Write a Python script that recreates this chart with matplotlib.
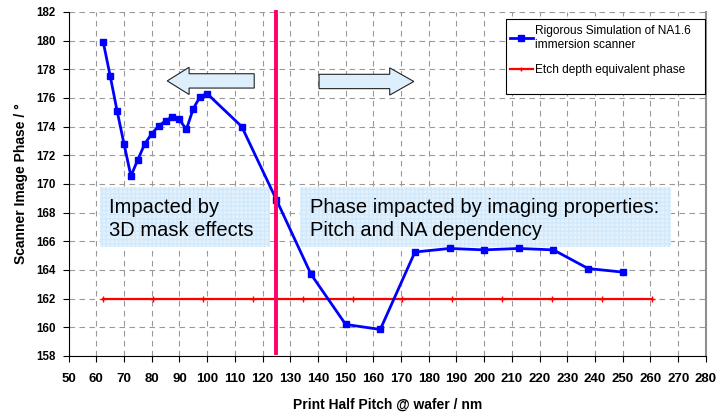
import matplotlib
matplotlib.use('Agg')
import matplotlib.pyplot as plt
from matplotlib.patches import Rectangle, FancyArrow

plt.rcParams['font.family'] = ['Liberation Sans', 'DejaVu Sans']

# Rigorous simulation (NA1.6 immersion scanner)
pitch = [62.5, 65, 67.5, 70, 72.5, 75, 77.5, 80, 82.5, 85, 87.5, 90, 92.5, 95,
         97.5, 100, 112.5, 125, 137.5, 150, 162.5, 175, 187.5, 200, 212.5,
         225, 237.5, 250]
phase = [179.9, 177.55, 175.1, 172.8, 170.55, 171.7, 172.8, 173.5, 174.05,
         174.4, 174.7, 174.5, 173.8, 175.25, 176.1, 176.3, 174.0, 168.9,
         163.7, 160.2, 159.85, 165.25, 165.5, 165.4, 165.5, 165.4, 164.1, 163.85]

# Etch depth equivalent phase
etch_x = [62.5, 80.5, 98.5, 116.5, 134.5, 152.5, 170.5, 188.5, 206.5, 224.5,
          242.5, 260.5]
etch_y = [162] * len(etch_x)

split_x = 125
x_ticks = list(range(50, 290, 10))
y_ticks = list(range(158, 184, 2))

fig = plt.figure(figsize=(7.16, 4.12), dpi=100)
ax = fig.add_axes([0.0958, 0.136, 0.890, 0.835])

ax.set_xlim(50, 280)
ax.set_ylim(158, 182)
ax.set_xticks(x_ticks)
ax.set_yticks(y_ticks)
ax.grid(True, color='#999999', linewidth=0.8, linestyle=(0, (5, 4)))
ax.set_axisbelow(True)

for lab in ax.get_xticklabels():
    lab.set_fontweight('bold')
    lab.set_fontsize(9.5)
for lab in ax.get_yticklabels():
    lab.set_fontweight('bold')
    lab.set_fontsize(8.3)
ax.tick_params(direction='out', length=4.5, width=0.8, color='black')
ax.tick_params(axis='x', pad=8)
ax.tick_params(axis='y', pad=5)

ax.spines['top'].set_visible(False)
ax.spines['right'].set_color('#909090')
ax.spines['right'].set_linewidth(1.5)
ax.spines['left'].set_color('black')
ax.spines['bottom'].set_color('black')

ax.set_xlabel('Print Half Pitch @ wafer / nm', fontsize=10, fontweight='bold',
              labelpad=9)
ax.set_ylabel('Scanner Image Phase / °', fontsize=10, fontweight='bold',
              labelpad=6)

# annotation boxes
for (x0, x1) in [(61.35, 122.8), (133.5, 267.4)]:
    ax.add_patch(Rectangle((x0, 165.58), x1 - x0, 4.18, facecolor='#E4F2FD',
                           edgecolor='#D2E9FB', hatch='++++', linewidth=0,
                           zorder=2))
ax.text(64.7, 167.55, 'Impacted by\n3D mask effects', fontsize=14.5,
        va='center', ha='left', linespacing=1.28, zorder=3)
ax.text(137.1, 167.55, 'Phase impacted by imaging properties:\nPitch and NA dependency',
        fontsize=14.5, va='center', ha='left', linespacing=1.28, zorder=3)

# arrows
ax.add_patch(FancyArrow(117.0, 177.19, -31.4, 0, width=1.0, head_width=1.9,
                        head_length=7.9, length_includes_head=True,
                        facecolor='#DDEEFC', edgecolor='#222222', linewidth=0.8,
                        zorder=3))
ax.add_patch(FancyArrow(140.4, 177.15, 34.2, 0, width=1.0, head_width=1.9,
                        head_length=8.7, length_includes_head=True,
                        facecolor='#DDEEFC', edgecolor='#222222', linewidth=0.8,
                        zorder=3))

l1, = ax.plot(pitch, phase, color='#0000FF', linewidth=2, marker='s',
              markersize=4.8, zorder=5,
              label='Rigorous Simulation of NA1.6\nimmersion scanner')
l2, = ax.plot(etch_x, etch_y, color='#FF0000', linewidth=1.6, marker='+',
              markersize=4, markeredgewidth=1, zorder=4,
              label='Etch depth equivalent phase')
ax.plot([split_x, split_x], [158.2, 182], color='#FF0066', linewidth=2.8,
        zorder=6, clip_on=False)

# legend frame (Excel style, drawn separately)
ax.add_patch(Rectangle((506 / 716, 1 - 94 / 412), 199 / 716, 75 / 412,
                       transform=fig.transFigure, facecolor='white',
                       edgecolor='black', linewidth=0.8, zorder=9,
                       clip_on=False))
leg = ax.legend(handles=[l1, l2], loc='upper left',
                bbox_to_anchor=((510 - 68.6) / 637.4, (356 - 25) / 344),
                fontsize=8.6, frameon=False, handlelength=1.9,
                handletextpad=0.2, borderpad=0, borderaxespad=0,
                labelspacing=1.15, markerscale=0.8)
leg.set_zorder(10)

fig.savefig('out.png', dpi=100, facecolor='white')
